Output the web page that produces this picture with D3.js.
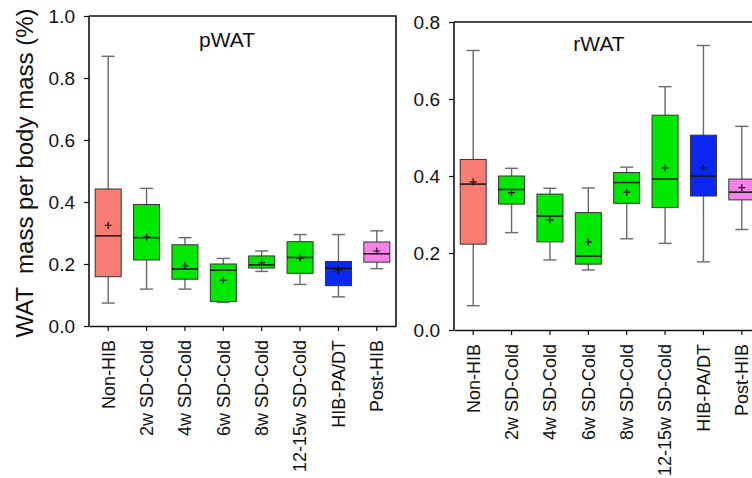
<!DOCTYPE html>
<html><head><meta charset="utf-8">
<script src="https://cdn.jsdelivr.net/npm/d3@7/dist/d3.min.js"></script>
<style>body{margin:0;background:#fff}svg{display:block}</style>
</head><body>
<svg id="c" width="752" height="478"></svg>
<script>
const categories = ["Non-HIB","2w SD-Cold","4w SD-Cold","6w SD-Cold","8w SD-Cold","12-15w SD-Cold","HIB-PA/DT","Post-HIB"];
const colors = ["#f87c74","#00e800","#00e800","#00e800","#00e800","#00e800","#0a28f0","#f482e8"];
// pWAT: whisker low, q1, median, q3, whisker high, mean
const pLow  = [0.074,0.119,0.119,0.076,0.176,0.134,0.094,0.185];
const pQ1   = [0.159,0.213,0.151,0.079,0.187,0.170,0.130,0.206];
const pMed  = [0.291,0.285,0.184,0.180,0.197,0.221,0.186,0.233];
const pQ3   = [0.442,0.392,0.262,0.200,0.226,0.272,0.208,0.271];
const pHigh = [0.870,0.444,0.285,0.218,0.242,0.295,0.295,0.307];
const pMean = [0.325,0.287,0.195,0.148,0.204,0.219,0.181,0.242];
// rWAT
const rLow  = [0.063,0.253,0.182,0.156,0.237,0.225,0.177,0.261];
const rQ1   = [0.223,0.327,0.229,0.171,0.329,0.318,0.348,0.338];
const rMed  = [0.379,0.365,0.296,0.192,0.383,0.392,0.400,0.358];
const rQ3   = [0.443,0.400,0.353,0.305,0.409,0.558,0.506,0.392];
const rHigh = [0.726,0.420,0.368,0.369,0.423,0.632,0.739,0.529];
const rMean = [0.385,0.357,0.286,0.229,0.358,0.421,0.421,0.370];
const pTicks = [0,0.2,0.4,0.6,0.8,1.0];
const rTicks = [0,0.2,0.4,0.6,0.8];

const svg = d3.select("#c");
const font = "'Liberation Sans', Arial, sans-serif";

function panel(opt){
  const x = d3.scaleBand().domain(categories).range(opt.xr).padding(0);
  const y = d3.scaleLinear().domain(opt.yd).range(opt.yr);
  const g = svg.append("g");
  g.append("path").attr("d", `M${opt.xr[0]},${opt.yr[1]}H${opt.xr[1]}V${opt.yr[0]}`)
    .attr("fill","none").attr("stroke","#111").attr("stroke-width",1.6);
  const bw = 26, cw = 13;
  categories.forEach((c,i)=>{
    const cx = x(c) + x.bandwidth()/2;
    const gg = g.append("g");
    gg.append("line").attr("x1",cx).attr("x2",cx).attr("y1",y(opt.low[i])).attr("y2",y(opt.high[i]))
      .attr("stroke","#6a6a6a").attr("stroke-width",1.4);
    [opt.low[i],opt.high[i]].forEach(v=>gg.append("line").attr("x1",cx-cw/2).attr("x2",cx+cw/2)
      .attr("y1",y(v)).attr("y2",y(v)).attr("stroke","#6a6a6a").attr("stroke-width",1.4));
    gg.append("rect").attr("x",cx-bw/2).attr("width",bw).attr("y",y(opt.q3[i]))
      .attr("height",y(opt.q1[i])-y(opt.q3[i])).attr("fill",colors[i]).attr("stroke","#333").attr("stroke-width",1);
    gg.append("line").attr("x1",cx-bw/2).attr("x2",cx+bw/2).attr("y1",y(opt.med[i])).attr("y2",y(opt.med[i]))
      .attr("stroke","#111").attr("stroke-width",1.5);
    const my = y(opt.mean[i]);
    gg.append("path").attr("d",`M${cx-3.5},${my}H${cx+3.5}M${cx},${my-3.5}V${my+3.5}`)
      .attr("stroke","#111").attr("stroke-width",1.2);
  });
  const ya = g.append("g").attr("transform",`translate(${opt.xr[0]},0)`)
    .call(d3.axisLeft(y).tickValues(opt.ticks).tickFormat(d3.format(".1f")).tickSize(5).tickPadding(9));
  const xa = g.append("g").attr("transform",`translate(0,${opt.yr[0]})`)
    .call(d3.axisBottom(x).tickSize(5).tickSizeOuter(0).tickPadding(3));
  [ya,xa].forEach(a=>{
    a.select(".domain").attr("stroke","#111").attr("stroke-width",1.6);
    a.selectAll(".tick line").attr("stroke","#111").attr("stroke-width",1.2);
    a.selectAll("text").attr("font-family",font).attr("fill","#111");
  });
  ya.selectAll("text").attr("font-size",19);
  xa.selectAll("text").attr("font-size",18);
  ya.select(".domain").attr("d",`M0,${opt.yr[0]}V${opt.yr[1]}`);
  xa.selectAll(".tick text").attr("transform","rotate(-90)").attr("text-anchor","end")
    .attr("x",-14).attr("y",0).attr("dy","0.35em");
  g.append("text").attr("x",opt.tx).attr("y",opt.ty).attr("text-anchor","middle")
    .attr("font-family",font).attr("font-size",21).attr("fill","#111").text(opt.title);
}

panel({xr:[89,396], yr:[326,16], yd:[0,1.0], ticks:pTicks, low:pLow,q1:pQ1,med:pMed,q3:pQ3,high:pHigh,mean:pMean, title:"pWAT", tx:227, ty:47});
panel({xr:[454,761], yr:[330,22], yd:[0,0.8], ticks:rTicks, low:rLow,q1:rQ1,med:rMed,q3:rQ3,high:rHigh,mean:rMean, title:"rWAT", tx:599, ty:51});

svg.append("text").attr("transform","translate(33,173) rotate(-90)").attr("text-anchor","middle")
  .attr("font-family",font).attr("font-size",24).attr("fill","#111")
  .style("white-space","pre").text("WAT  mass per body mass (%)");
</script>
</body></html>
